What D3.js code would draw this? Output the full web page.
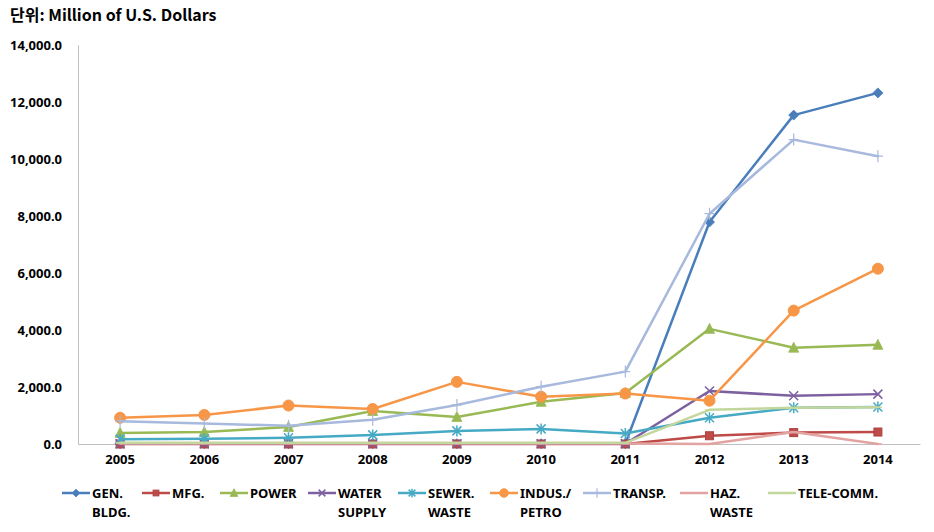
<!DOCTYPE html>
<html>
<head>
<meta charset="utf-8">
<script src="https://cdn.jsdelivr.net/npm/d3@7"></script>
<style>
  html, body { margin: 0; padding: 0; background: #fff; }
  svg { display: block; }
  text { font-family: "Noto Sans CJK KR", "Noto Sans", sans-serif; font-weight: bold; fill: #000; }
</style>
</head>
<body>
<svg id="chart" width="934" height="532"></svg>
<script>
// ---- data ----
const years = ["2005","2006","2007","2008","2009","2010","2011","2012","2013","2014"];
const yTicks = [0, 2000, 4000, 6000, 8000, 10000, 12000, 14000];
const seriesNames = ["GEN. BLDG.", "MFG.", "POWER", "WATER SUPPLY", "SEWER. WASTE", "INDUS./ PETRO", "TRANSP.", "HAZ. WASTE", "TELE-COMM."];
const genBldg   = [10, 10, 10, 10, 10, 10, 10, 7790, 11540, 12320];
const mfg       = [0, 0, 0, 0, 0, 0, 0, 290, 400, 420];
const power     = [390, 420, 600, 1160, 950, 1480, 1790, 4040, 3380, 3480];
const water     = [10, 10, 10, 10, 10, 10, 10, 1860, 1690, 1750];
const sewer     = [170, 180, 220, 320, 460, 530, 370, 920, 1270, 1300];
const indus     = [920, 1020, 1350, 1230, 2180, 1660, 1770, 1520, 4680, 6150];
const transp    = [800, 720, 640, 850, 1370, 2010, 2540, 8080, 10680, 10100];
const hazWaste  = [20, 20, 20, 20, 20, 20, 20, 0, 420, 0];
const teleComm  = [40, 40, 40, 40, 40, 40, 40, 1200, 1270, 1290];

// ---- styling (not data) ----
const colors  = ["#4A7EBB", "#BE4B48", "#98B954", "#7D60A0", "#46AAC5", "#F79646", "#A7B9DC", "#E2A3A1", "#C3D69B"];
const markers = ["diamond", "square", "triangle", "x", "asterisk", "circle", "plus", "dash", "dash"];
const legendX = [62, 142, 220, 308, 398, 490, 583, 680, 768];

const allValues = [genBldg, mfg, power, water, sewer, indus, transp, hazWaste, teleComm];
const series = seriesNames.map((name, i) => ({ name, values: allValues[i], color: colors[i], marker: markers[i] }));

const svg = d3.select("#chart");
const plot = { left: 78, right: 920, top: 45, bottom: 444 };

const x = d3.scaleBand().domain(years).range([plot.left, plot.right]);
const y = d3.scaleLinear().domain([0, 14000]).range([plot.bottom, plot.top]);
const cx = d => x(d) + x.bandwidth() / 2;

// title
svg.append("text").attr("x", 10).attr("y", 21).style("font-size", "16px")
  .text("단위: Million of U.S. Dollars");

// y axis
const yAxis = d3.axisLeft(y).tickValues(yTicks).tickSize(0).tickPadding(16)
  .tickFormat(d => d3.format(",.1f")(d));
const gy = svg.append("g").attr("transform", `translate(${plot.left},0)`).call(yAxis);
gy.select(".domain").attr("stroke", "#BFBFBF").attr("stroke-width", 1);
gy.selectAll("text").style("font-size", "13px").style("font-family", "'Noto Sans', sans-serif").style("font-weight", "bold").attr("fill", "#000");

// x axis
const xAxis = d3.axisBottom(x).tickSize(0).tickPadding(11);
const gx = svg.append("g").attr("transform", `translate(0,${plot.bottom})`).call(xAxis);
gx.select(".domain").attr("stroke", "#BFBFBF").attr("stroke-width", 1);
gx.selectAll("text").style("font-size", "13px").style("font-family", "'Noto Sans', sans-serif").style("font-weight", "bold").attr("fill", "#000");

// marker drawing
function drawMarker(g, type, color, px, py, s) {
  const h = s / 2;
  switch (type) {
    case "diamond":
      g.append("path").attr("d", `M${px},${py - h - 0.5}L${px + h + 0.5},${py}L${px},${py + h + 0.5}L${px - h - 0.5},${py}Z`)
        .attr("fill", color).attr("stroke", color).attr("stroke-width", 0.8);
      break;
    case "square":
      g.append("rect").attr("x", px - h + 0.5).attr("y", py - h + 0.5).attr("width", s - 1).attr("height", s - 1)
        .attr("fill", color).attr("stroke", d3.color(color).darker(0.3)).attr("stroke-width", 1);
      break;
    case "triangle":
      g.append("path").attr("d", `M${px},${py - h - 1}L${px + h + 0.5},${py + h}L${px - h - 0.5},${py + h}Z`)
        .attr("fill", color).attr("stroke", color).attr("stroke-width", 0.8);
      break;
    case "circle":
      g.append("circle").attr("cx", px).attr("cy", py).attr("r", h + 0.5).attr("fill", color).attr("stroke", color);
      break;
    case "x":
      g.append("path").attr("d", `M${px - h},${py - h}L${px + h},${py + h}M${px - h},${py + h}L${px + h},${py - h}`)
        .attr("stroke", color).attr("stroke-width", 1.5).attr("fill", "none");
      break;
    case "asterisk":
      g.append("path").attr("d", `M${px - h},${py - h}L${px + h},${py + h}M${px - h},${py + h}L${px + h},${py - h}M${px},${py - h - 1}L${px},${py + h + 1}`)
        .attr("stroke", color).attr("stroke-width", 1.5).attr("fill", "none");
      break;
    case "plus":
      g.append("path").attr("d", `M${px - h},${py}L${px + h},${py}M${px},${py - h - 1}L${px},${py + h + 1}`)
        .attr("stroke", color).attr("stroke-width", 1.2).attr("fill", "none");
      break;
    case "dash":
      g.append("path").attr("d", `M${px - h},${py}L${px + h},${py}`)
        .attr("stroke", color).attr("stroke-width", 1.5).attr("fill", "none");
      break;
  }
}

const markerSize = { diamond: 9, square: 9, triangle: 9, circle: 10, x: 9, asterisk: 9, plus: 10, dash: 8 };

// lines
const line = d3.line().x((d, i) => cx(years[i])).y(d => y(d));
series.forEach(s => {
  const g = svg.append("g");
  g.append("path").datum(s.values).attr("d", line)
    .attr("fill", "none").attr("stroke", s.color).attr("stroke-width", 2.5)
    .attr("stroke-linejoin", "round").attr("stroke-linecap", "round");
  s.values.forEach((v, i) => drawMarker(g, s.marker, s.color, cx(years[i]), y(v), markerSize[s.marker]));
});

// legend
const legendY = 493;
series.forEach((s, i) => {
  const g = svg.append("g");
  const lx = legendX[i];
  g.append("line").attr("x1", lx).attr("x2", lx + 28).attr("y1", legendY).attr("y2", legendY)
    .attr("stroke", s.color).attr("stroke-width", 2.5);
  drawMarker(g, s.marker, s.color, lx + 14, legendY, markerSize[s.marker] * 0.75);
  const parts = s.name.split(" ");
  const lines = (parts.length > 1 && s.name !== "TELE-COMM.") ? [parts[0], parts.slice(1).join(" ")] : [s.name];
  const t = g.append("text").attr("x", lx + 30).attr("y", 498).style("font-size", "13px")
    .style("font-family", "'Noto Sans', sans-serif");
  lines.forEach((ln, k) => {
    t.append("tspan").attr("x", lx + 30).attr("dy", k === 0 ? 0 : 19).text(ln);
  });
});
</script>
</body>
</html>
